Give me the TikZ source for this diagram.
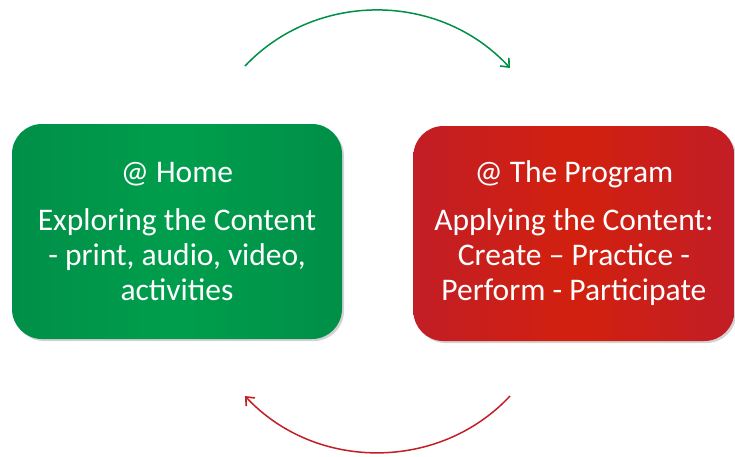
\documentclass[tikz,border=0pt]{standalone}
\usepackage{fontspec}
\setmainfont{Carlito}
\usetikzlibrary{positioning}
\usetikzlibrary{arrows.meta}
\usetikzlibrary{shadows}

\definecolor{homeGreen}{HTML}{008F48}
\definecolor{homeGreenLight}{HTML}{009E4C}
\definecolor{progRed}{HTML}{C21E26}
\definecolor{progRedLight}{HTML}{D2200E}

\begin{document}
\begin{tikzpicture}[x=1pt, y=-1pt,
	style={align=center, text=white, font=\fontsize{31.5}{35}\selectfont},
	box/.style={rounded corners=30pt, inner sep=0pt,
		drop shadow={shadow xshift=2pt, shadow yshift=-2pt, opacity=0.35}},
	loop/.style={line width=1.5pt, -{Straight Barb[length=7pt, width=12pt, line width=1.6pt]}}]
	\useasboundingbox (0,0) rectangle (735,456);
	\node[box, minimum width=330pt, minimum height=215pt, left color=homeGreen, right color=homeGreen, middle color=homeGreenLight] (home) at (177,231.5)
		{@ Home\\[13pt]Exploring the Content\\- print, audio, video,\\activities};
	\node[box, minimum width=321pt, minimum height=215pt, left color=progRed, right color=progRed, middle color=progRedLight, right=71pt of home, yshift=-2pt] (program)
		{@ The Program\\[13pt]Applying the Content:\\Create -- Practice -\\Perform - Participate};
	\coordinate (topA) at (245,66);
	\coordinate (topB) at (510,68);
	\coordinate (botA) at (510,396);
	\coordinate (botB) at (245,396);
	\draw[loop, draw=homeGreen] (topA) to[bend left=47] (topB);
	\draw[loop, draw=progRed] (botA) to[bend left=47] (botB);
\end{tikzpicture}
\end{document}
